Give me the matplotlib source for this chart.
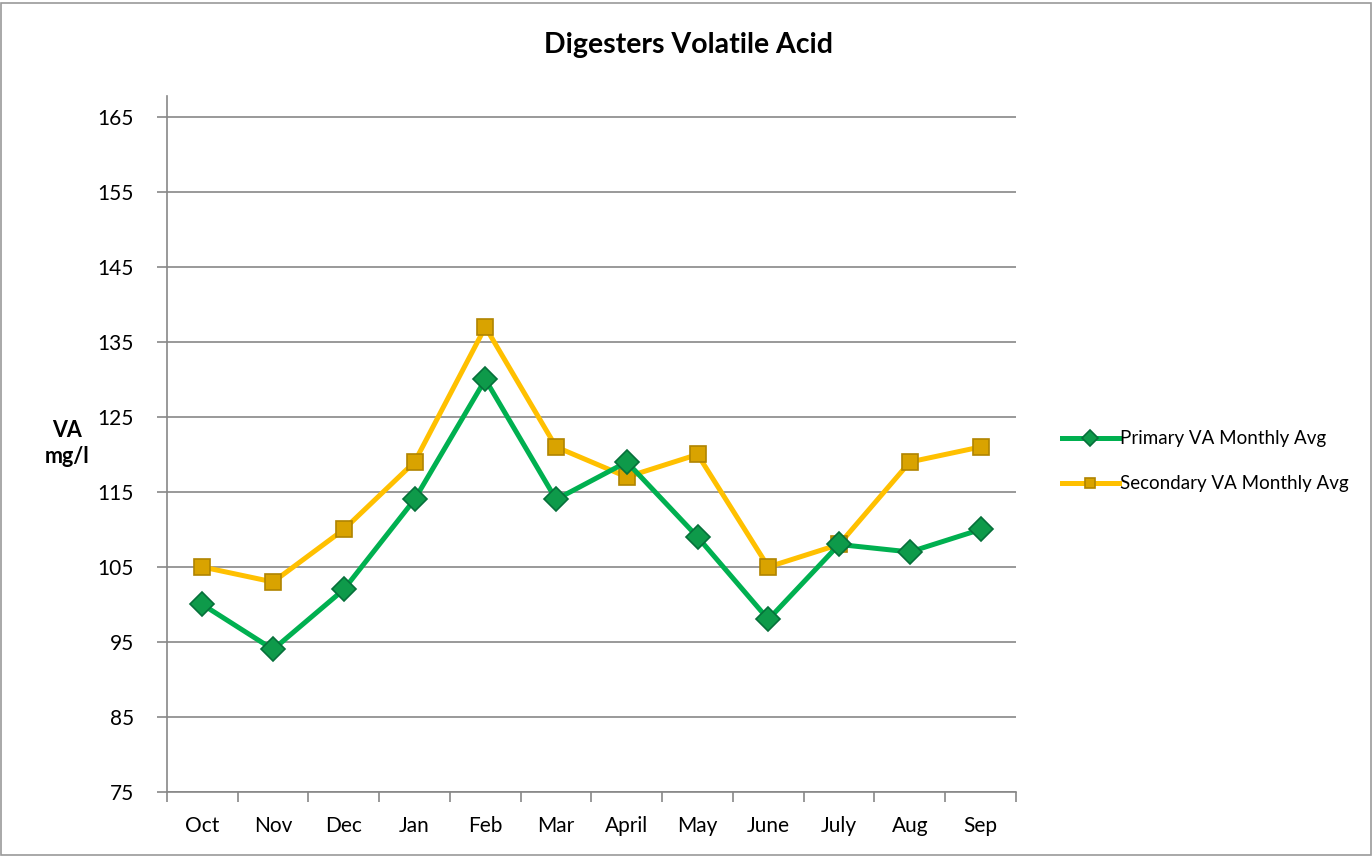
import matplotlib.pyplot as plt
from matplotlib.patches import Rectangle

months = ["Oct", "Nov", "Dec", "Jan", "Feb", "Mar", "April", "May", "June", "July", "Aug", "Sep"]
primary_va = [100, 94, 102, 114, 130, 114, 119, 109, 98, 108, 107, 110]
secondary_va = [105, 103, 110, 119, 137, 121, 117, 120, 105, 108, 119, 121]
y_ticks = [75, 85, 95, 105, 115, 125, 135, 145, 155, 165]

plt.rcParams["font.family"] = ["Lato", "DejaVu Sans"]

fig = plt.figure(figsize=(13.72, 8.56), dpi=100)
ax = fig.add_axes([0.1217, 0.0748, 0.6188, 0.8131])

x = list(range(len(months)))
grid_color = "#878787"

ax.plot(x, secondary_va, color="#FFC000", lw=3.6, marker="s", ms=11,
        mfc="#D9A300", mec="#B08400", mew=1.2, label="Secondary VA Monthly Avg", zorder=3)
ax.plot(x, primary_va, color="#00B050", lw=3.6, marker="D", ms=12,
        mfc="#0E9A4A", mec="#06703A", mew=1.2, label="Primary VA Monthly Avg", zorder=4)

ax.set_xlim(-0.5, len(months) - 0.5)
ax.set_ylim(75, 167.8)
ax.set_yticks(y_ticks)
ax.set_yticklabels([str(v) for v in y_ticks], fontsize=15)
ax.yaxis.grid(True, color=grid_color, lw=1.2)
ax.set_axisbelow(True)

# category ticks sit on the boundaries, labels at the centres
ax.set_xticks([i - 0.5 for i in range(len(months) + 1)])
ax.set_xticklabels([])
ax.set_xticks(x, minor=True)
ax.set_xticklabels(months, minor=True, fontsize=15)
ax.tick_params(axis="x", which="minor", length=0, pad=17)
ax.tick_params(axis="x", which="major", length=7, color=grid_color, width=1.2, direction="out")
ax.tick_params(axis="y", length=7, color=grid_color, width=1.2, direction="out", pad=17)

for side in ["top", "right"]:
    ax.spines[side].set_visible(False)
for side in ["left", "bottom"]:
    ax.spines[side].set_color(grid_color)
    ax.spines[side].set_linewidth(1.2)

fig.text(0.5015, 0.948, "Digesters Volatile Acid", ha="center", va="center",
         fontsize=20.5, fontweight="bold")
fig.text(0.049, 0.482, "VA\nmg/l", ha="center", va="center", fontsize=15.5,
         fontweight="bold", linespacing=1.3)

handles, labels = ax.get_legend_handles_labels()
fig.legend(handles[::-1], labels[::-1], loc="center left", bbox_to_anchor=(0.762, 0.461),
           frameon=False, fontsize=13.5, handlelength=3.0, labelspacing=1.5,
           handletextpad=0.1, markerscale=0.7)

fig.patches.append(Rectangle((0.001, 0.001), 0.998, 0.995, transform=fig.transFigure,
                             fill=False, edgecolor="#9a9a9a", lw=1.2))

fig.savefig("out.png", dpi=100)
